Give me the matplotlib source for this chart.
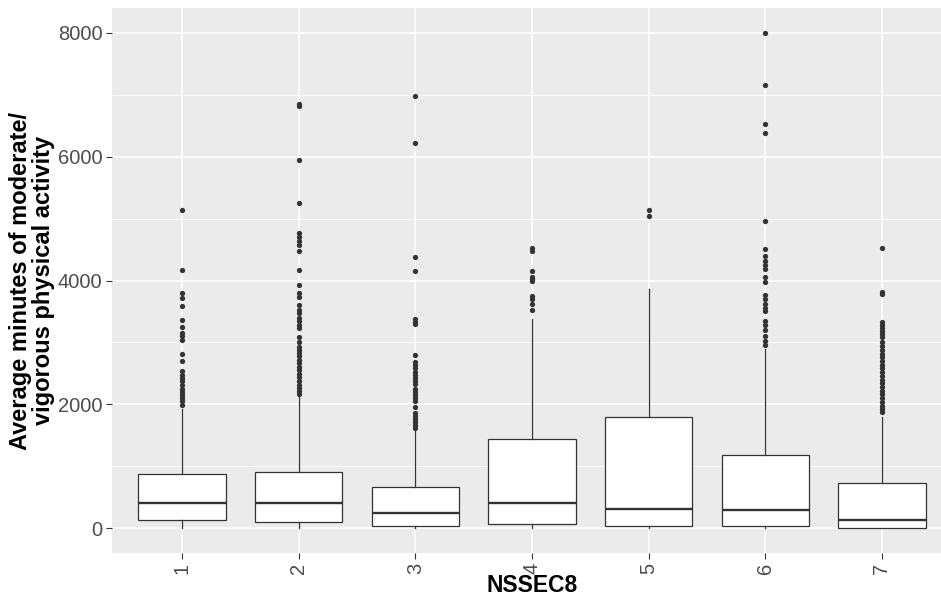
import numpy as np
import matplotlib
matplotlib.use("Agg")
import matplotlib.pyplot as plt
from matplotlib.ticker import MultipleLocator

plt.rcParams['font.family'] = ['Liberation Sans', 'DejaVu Sans']

# groups on the x axis
categories = ['1', '2', '3', '4', '5', '6', '7']

# box statistics (minutes)
q1 = [134, 102, 40, 65, 38, 35, 10]
medians = [403, 403, 245, 403, 317, 300, 130]
q3 = [876, 914, 660, 1435, 1801, 1190, 728]
whisker_lo = [5, 0, 0, 0, 0, 0, 0]
whisker_hi = [1919, 2120, 1570, 3371, 3855, 2900, 1800]

# outliers per group
outliers_1 = [5140, 4170, 3800, 3715, 3590, 3360, 3250, 3160, 3100, 3040, 2810, 2700,
              2540, 2480, 2420, 2370, 2310, 2250, 2200, 2150, 2100, 2050, 1995]
outliers_2 = [6850, 6810, 5950, 5250, 4760, 4700, 4640, 4570, 4470, 4170, 3930, 3800,
              3740, 3600, 3530, 3470, 3400, 3340, 3280, 3240, 3090, 3000, 2930, 2870,
              2830, 2780, 2720, 2660, 2600, 2550, 2490, 2440, 2380, 2320, 2270, 2210, 2160]
outliers_3 = [6980, 6220, 4380, 4150, 3380, 3330, 3290, 2790, 2680, 2630, 2580, 2530,
              2480, 2430, 2380, 2330, 2250, 2200, 2150, 2100, 2050, 1960, 1860, 1810,
              1760, 1710, 1660, 1620]
outliers_4 = [4520, 4470, 4160, 4060, 4020, 3990, 3750, 3700, 3620, 3520]
outliers_5 = [5140, 5040]
outliers_6 = [7990, 7150, 6520, 6380, 4960, 4510, 4390, 4320, 4250, 4190, 4060, 3970,
              3770, 3700, 3620, 3560, 3510, 3340, 3280, 3200, 3100, 3030, 2960]
outliers_7 = [4520, 3820, 3790, 3330, 3280, 3230, 3180, 3130, 3090, 3000, 2940, 2880,
              2820, 2760, 2700, 2640, 2580, 2520, 2460, 2400, 2340, 2280, 2220, 2160,
              2100, 2040, 1980, 1930, 1880]
outliers = [outliers_1, outliers_2, outliers_3, outliers_4, outliers_5, outliers_6, outliers_7]

x_title = 'NSSEC8'
y_title = 'Average minutes of moderate/\nvigorous physical activity'

stats = []
for i, lab in enumerate(categories):
    stats.append(dict(label=lab, q1=q1[i], med=medians[i], q3=q3[i],
                      whislo=whisker_lo[i], whishi=whisker_hi[i],
                      fliers=np.array(outliers[i])))

fig = plt.figure(figsize=(9.41, 6.01), dpi=100)
ax = fig.add_axes([112 / 941, 48 / 601, 840 / 941, 545 / 601])
ax.set_facecolor('#EBEBEB')

line_col = '#333333'
ax.bxp(stats, positions=np.arange(1, 8), widths=0.75, patch_artist=True,
       showcaps=False,
       boxprops=dict(facecolor='white', edgecolor=line_col, linewidth=0.9),
       medianprops=dict(color=line_col, linewidth=1.7),
       whiskerprops=dict(color=line_col, linewidth=0.9),
       flierprops=dict(marker='o', markerfacecolor=line_col, markeredgecolor='none',
                       markersize=3.8))

ax.set_xlim(0.4, 7.6)
ax.set_ylim(-400, 8400)
ax.yaxis.set_major_locator(MultipleLocator(2000))
ax.yaxis.set_minor_locator(MultipleLocator(1000))

ax.set_axisbelow(True)
ax.grid(which='major', color='white', linewidth=1.1)
ax.grid(which='minor', axis='y', color='white', linewidth=0.55)
for s in ax.spines.values():
    s.set_visible(False)

ax.tick_params(axis='both', which='major', direction='out', length=4, width=0.8,
               color=line_col, labelcolor='#4D4D4D', labelsize=14.5, pad=3)
ax.tick_params(axis='y', which='minor', length=0)
ax.set_xticks(np.arange(1, 8))
ax.set_xticklabels(categories, rotation=90, va='top', ha='center')

ax.set_xlabel(x_title, fontsize=16.5, fontweight='bold', color='black')
ax.xaxis.set_label_coords(0.5, -0.038)
ax.set_ylabel(y_title, fontsize=17, fontweight='bold', color='black',
              linespacing=1.0, multialignment='center')
ax.yaxis.set_label_coords(-0.068, 0.5)

fig.savefig('out.png', dpi=100)
